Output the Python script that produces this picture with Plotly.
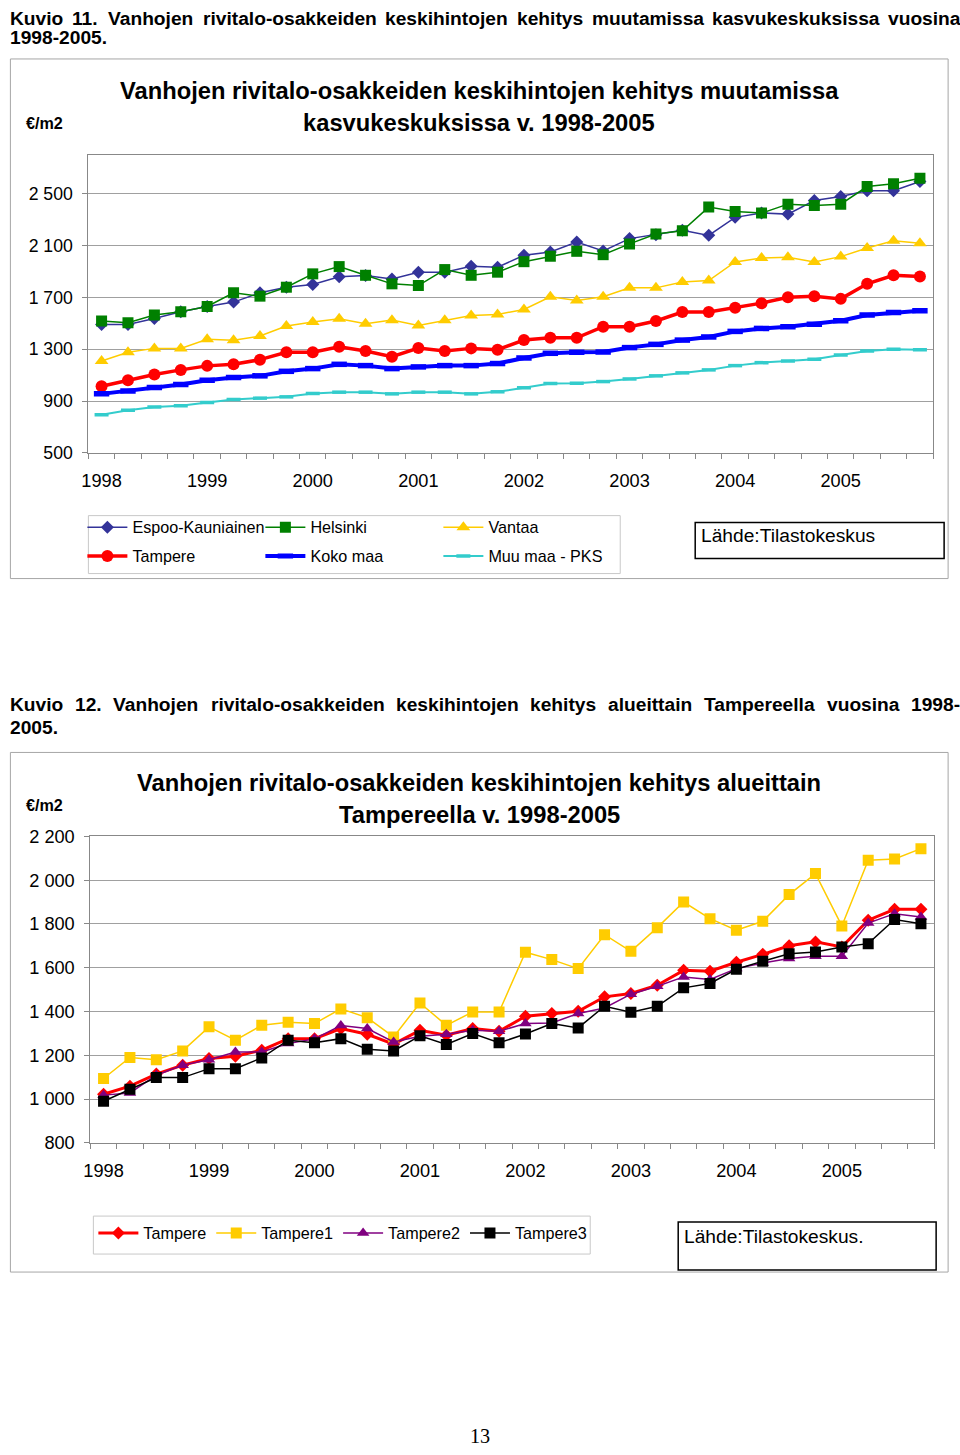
import plotly.graph_objects as go

# ---------------- data ----------------
years = ["1998", "1999", "2000", "2001", "2002", "2003", "2004", "2005"]
quarters_per_year = 4
n_points = len(years) * quarters_per_year
x_idx = list(range(n_points))

# Chart 1 (€/m2, quarterly)
espoo = [1492, 1492, 1538, 1589, 1630, 1664, 1736, 1779, 1800, 1859, 1869, 1843, 1895, 1895, 1941, 1933,
         2025, 2051, 2128, 2059, 2154, 2184, 2218, 2179, 2318, 2351, 2343, 2448, 2479, 2523, 2523, 2595]
helsinki = [1518, 1505, 1564, 1589, 1630, 1736, 1710, 1779, 1882, 1938, 1871, 1805, 1792, 1915, 1871, 1895,
            1976, 2018, 2056, 2030, 2113, 2189, 2215, 2397, 2364, 2351, 2420, 2410, 2420, 2556, 2577, 2620]
vantaa = [1210, 1277, 1307, 1307, 1377, 1369, 1402, 1479, 1510, 1536, 1497, 1525, 1484, 1525, 1561, 1569,
          1607, 1705, 1677, 1705, 1774, 1774, 1820, 1830, 1974, 2005, 2010, 1974, 2015, 2082, 2138, 2118]
tampere = [1015, 1061, 1105, 1141, 1172, 1184, 1220, 1277, 1277, 1320, 1287, 1243, 1310, 1287, 1307, 1297,
           1371, 1389, 1389, 1474, 1474, 1518, 1587, 1587, 1620, 1656, 1702, 1710, 1689, 1805, 1871, 1861]
koko_maa = [956, 979, 1005, 1028, 1061, 1082, 1095, 1130, 1151, 1184, 1174, 1151, 1164, 1174, 1174, 1190,
            1233, 1269, 1277, 1279, 1313, 1338, 1371, 1395, 1438, 1461, 1474, 1494, 1520, 1564, 1584, 1597]
muu_maa = [795, 830, 854, 864, 890, 913, 923, 933, 959, 969, 969, 956, 969, 969, 956, 972,
           1003, 1036, 1038, 1051, 1071, 1095, 1118, 1141, 1174, 1197, 1210, 1223, 1256, 1287, 1300, 1297]

# Chart 2 (Tampere areas)
tre = [1022, 1059, 1114, 1155, 1185, 1196, 1223, 1276, 1276, 1322, 1296, 1251, 1314, 1292, 1322, 1310,
       1378, 1391, 1401, 1467, 1482, 1520, 1588, 1584, 1625, 1661, 1700, 1718, 1695, 1817, 1867, 1867]
tre1 = [1094, 1190, 1180, 1220, 1330, 1269, 1337, 1351, 1345, 1412, 1372, 1284, 1439, 1337, 1398, 1398,
        1671, 1637, 1596, 1751, 1675, 1783, 1900, 1824, 1771, 1812, 1934, 2030, 1791, 2091, 2097, 2144]
tre2 = [1018, 1028, 1109, 1155, 1180, 1215, 1215, 1254, 1275, 1336, 1322, 1261, 1287, 1296, 1314, 1310,
        1345, 1348, 1391, 1416, 1479, 1515, 1558, 1546, 1596, 1622, 1642, 1652, 1652, 1804, 1847, 1832]
tre3 = [990, 1045, 1098, 1098, 1139, 1139, 1188, 1269, 1257, 1276, 1228, 1220, 1289, 1249, 1299, 1257,
        1297, 1345, 1325, 1424, 1397, 1424, 1508, 1528, 1593, 1630, 1664, 1672, 1695, 1710, 1820, 1801]

y1_ticks = [500, 900, 1300, 1700, 2100, 2500]
y1_labels = ["500", "900", "1 300", "1 700", "2 100", "2 500"]
y2_ticks = [800, 1000, 1200, 1400, 1600, 1800, 2000, 2200]
y2_labels = ["800", "1 000", "1 200", "1 400", "1 600", "1 800", "2 000", "2 200"]
year_tick_idx = [i * quarters_per_year for i in range(len(years))]

# ---------------- layout helpers ----------------
W, H = 960, 1455
FONT = "Liberation Sans, Arial, sans-serif"

# calibration of the page photograph (figure px -> picture px)
CX0, CXS = 6.6, 0.993
CY0, CYS = 9.0, 0.987
FS = 1 / 0.99


def X(xr):  # target picture x -> figure px
    return (xr - CX0) / CXS


def Y(yr):  # target picture y -> figure px
    return (yr - CY0) / CYS


def px(xr):
    return X(xr) / W


def py(yr):
    return 1 - Y(yr) / H


HB = {' ': 278, '.': 278, '-': 333, 'K': 722, 'T': 611, 'V': 667,
      'a': 556, 'b': 611, 'c': 556, 'd': 611, 'e': 556, 'f': 333, 'g': 611, 'h': 611, 'i': 278,
      'j': 278, 'k': 556, 'l': 278, 'm': 889, 'n': 611, 'o': 611, 'p': 611, 'q': 611, 'r': 389,
      's': 556, 't': 333, 'u': 611, 'v': 556, 'w': 778, 'x': 556, 'y': 556, 'z': 500}


def tw(s, size):
    return sum(HB.get(c, 556) for c in s) * size / 1000.0


annotations = []


def ann_fig(text, xf, yf, size, bold=False, xanchor="left", family=FONT):
    if bold:
        text = "<b>" + text + "</b>"
    annotations.append(dict(text=text, x=xf, y=yf, xref="x3", yref="y3",
                            xanchor=xanchor, yanchor="middle", showarrow=False,
                            font=dict(family=family, size=size * FS, color="black")))


def ann(text, xr, yr, size, bold=False, xanchor="left", family=FONT):
    ann_fig(text, X(xr), Y(yr), size, bold, xanchor, family)


def justified(line, xf0, xf1, yf, size):
    words = line.split()
    widths = [tw(w, size * FS) for w in words]
    gap = (xf1 - xf0 - sum(widths)) / (len(words) - 1)
    x = xf0
    for w, wd in zip(words, widths):
        ann_fig(w, x, yf, size, bold=True)
        x += wd + gap


fig = go.Figure()

# ---------------- chart 1 traces ----------------
c1 = [
    ("Espoo-Kauniainen", espoo, "#333399", 1.5, "diamond", 10, "legend"),
    ("Helsinki", helsinki, "#008000", 1.5, "square", 11, "legend"),
    ("Vantaa", vantaa, "#FFCC00", 1.5, "triangle-up", 12, "legend"),
    ("Tampere", tampere, "#FF0000", 3.5, "circle", 12, "legend2"),
    ("Koko maa", koko_maa, "#0000FF", 4, "line-ew", 11, "legend2"),
    ("Muu maa - PKS", muu_maa, "#33CCCC", 2, "line-ew", 10, "legend2"),
]
for name, vals, col, lw, sym, ms, lg in c1:
    if sym == "line-ew":
        marker = dict(symbol=sym, size=ms, color=col, line=dict(color=col, width=lw + 1.5))
    else:
        marker = dict(symbol=sym, size=ms, color=col, line=dict(width=0))
    fig.add_trace(go.Scatter(x=x_idx, y=vals, name=name, mode="lines+markers",
                             line=dict(color=col, width=lw), marker=marker,
                             xaxis="x", yaxis="y", legend=lg))

# ---------------- chart 2 traces ----------------
c2 = [
    ("Tampere", tre, "#FF0000", 3, "diamond", 10),
    ("Tampere1", tre1, "#FFCC00", 1.5, "square", 11),
    ("Tampere2", tre2, "#800080", 1.5, "triangle-up", 11),
    ("Tampere3", tre3, "#000000", 1.5, "square", 11),
]
for name, vals, col, lw, sym, ms in c2:
    fig.add_trace(go.Scatter(x=x_idx, y=vals, name=name, mode="lines+markers",
                             line=dict(color=col, width=lw),
                             marker=dict(symbol=sym, size=ms, color=col, line=dict(width=0)),
                             xaxis="x2", yaxis="y2", legend="legend3"))

AXC = "#888888"
GRID = "#A0A0A0"


def xaxis(x0, x1, anchor):
    return dict(domain=[px(x0), px(x1)], anchor=anchor, range=[-0.5, n_points - 0.5],
                tickmode="array", tickvals=year_tick_idx, ticktext=years,
                ticks="outside", ticklen=11, tickcolor="rgba(0,0,0,0)",
                tickfont=dict(family=FONT, size=18 * FS, color="black"),
                showgrid=False, zeroline=False, showline=True, linecolor=AXC, linewidth=1,
                mirror=True, fixedrange=True,
                minor=dict(tick0=-0.5, dtick=1, ticks="outside", ticklen=5,
                           tickcolor=AXC, showgrid=False))


def yaxis(y_bottom, y_top, anchor, rng, tv, tt, fs):
    return dict(domain=[py(y_bottom), py(y_top)], anchor=anchor, range=rng, tickmode="array",
                tickvals=tv, ticktext=tt, ticks="outside", ticklen=5, tickcolor=AXC,
                ticklabelstandoff=6,
                tickfont=dict(family=FONT, size=fs * FS, color="black"),
                showgrid=True, gridcolor=GRID, gridwidth=1, zeroline=False,
                showline=True, linecolor=AXC, linewidth=1, mirror=True, fixedrange=True)


# ---------------- text ----------------
justified("Kuvio 11. Vanhojen rivitalo-osakkeiden keskihintojen kehitys muutamissa kasvukeskuksissa vuosina",
          0.5, X(958), 8.5, 19)
ann_fig("<b>1998-2005.</b>", 0.5, 27.5, 19)
ann("€/m2", 24, 122, 16, bold=True)
ann("Vanhojen rivitalo-osakkeiden keskihintojen kehitys muutamissa", 479, 90, 23.5, bold=True, xanchor="center")
ann("kasvukeskuksissa v. 1998-2005", 479, 122, 23.5, bold=True, xanchor="center")
ann("Lähde:Tilastokeskus", 699, 535, 19)

justified("Kuvio 12. Vanhojen rivitalo-osakkeiden keskihintojen kehitys alueittain Tampereella vuosina 1998-",
          0.5, X(958), Y(704), 19)
ann_fig("<b>2005.</b>", 0.5, Y(727), 19)
ann("€/m2", 24, 805, 16, bold=True)
ann("Vanhojen rivitalo-osakkeiden keskihintojen kehitys alueittain", 479, 783, 23.5, bold=True, xanchor="center")
ann("Tampereella v. 1998-2005", 479, 815, 23.5, bold=True, xanchor="center")
ann("Lähde:Tilastokeskus.", 682, 1236, 19)

ann_fig("13", X(480), H - 9, 20, family="Liberation Serif, Times New Roman, serif", xanchor="center")

# ---------------- boxes ----------------
shapes = []


def rect(x0, y0, x1, y1, color, width):
    shapes.append(dict(type="rect", xref="x3", yref="y3", x0=X(x0), x1=X(x1),
                       y0=Y(y0), y1=Y(y1), line=dict(color=color, width=width),
                       fillcolor="rgba(0,0,0,0)", layer="below"))


rect(10, 58, 948, 578, "#A6A6A6", 1)
rect(88, 515, 620, 573, "#C8C8C8", 1)
rect(695, 522, 944, 558, "#000000", 1.5)
rect(10, 752, 948, 1272, "#A6A6A6", 1)
rect(93, 1216, 590, 1254, "#C8C8C8", 1)
rect(678, 1222, 936, 1270, "#000000", 1.5)

leg_common = dict(orientation="h", xanchor="left", yanchor="top", bgcolor="rgba(0,0,0,0)",
                  borderwidth=0, font=dict(family=FONT, size=16 * FS, color="black"),
                  traceorder="normal", itemclick=False, itemdoubleclick=False, itemwidth=40)

fig.update_layout(
    width=W, height=H, autosize=False,
    margin=dict(l=0, r=0, t=0, b=0, pad=0),
    paper_bgcolor="white", plot_bgcolor="rgba(0,0,0,0)",
    showlegend=True,
    xaxis=xaxis(88, 933, "y"),
    yaxis=yaxis(452.3, 154, "x", [500, 2800], y1_ticks, y1_labels, 17.5),
    xaxis2=xaxis(90, 934, "y2"),
    yaxis2=yaxis(1142.7, 836, "x2", [800, 2200], y2_ticks, y2_labels, 18),
    xaxis3=dict(domain=[0, 1], range=[0, W], visible=False, fixedrange=True, anchor="y3"),
    yaxis3=dict(domain=[0, 1], range=[H, 0], visible=False, fixedrange=True, anchor="x3"),
    legend=dict(x=px(82), y=py(509.5), entrywidth=123, entrywidthmode="pixels", **leg_common),
    legend2=dict(x=px(82), y=py(538.5), entrywidth=123, entrywidthmode="pixels", **leg_common),
    legend3=dict(x=px(93), y=py(1216), **leg_common),
    annotations=annotations,
    shapes=shapes,
)

page_css = (
    "var s=document.createElement('style');"
    "s.textContent='html,body{margin:0!important;padding:0!important;overflow:hidden!important;}';"
    "document.head.appendChild(s);"
)

fig.write_html("out.html", post_script=page_css, config={"displayModeBar": False})
